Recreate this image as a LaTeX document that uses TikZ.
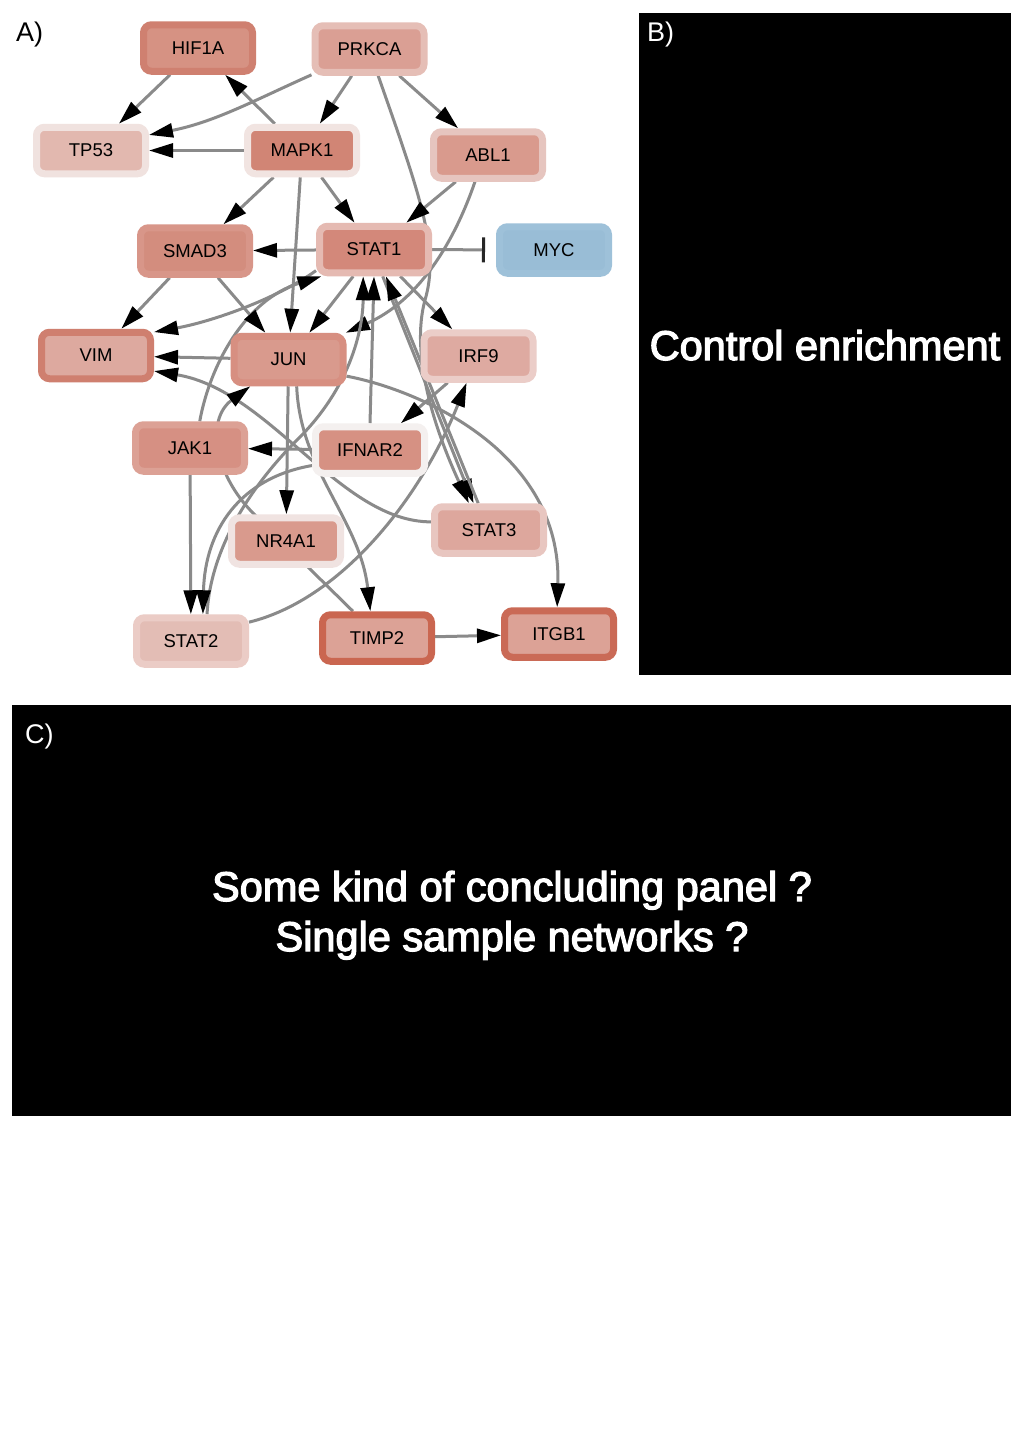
\documentclass[tikz,border=0pt]{standalone}
\usepackage{fontspec}
\setmainfont{Liberation Sans}
\newfontfamily\bigfont[FakeBold=3]{Liberation Sans}
\usetikzlibrary{arrows.meta}
\pgfdeclarelayer{bglayer}
\pgfdeclarelayer{edgelayer}
\pgfsetlayers{bglayer,edgelayer,main}
\definecolor{edgegray}{HTML}{8A8A8A}
\definecolor{hifO}{HTML}{CF8070}\definecolor{hifI}{HTML}{D69283}
\definecolor{prkO}{HTML}{E5BEB6}\definecolor{prkI}{HTML}{DA9F94}
\definecolor{tpO}{HTML}{F0E2DF}\definecolor{tpI}{HTML}{E2B8AF}
\definecolor{mapkO}{HTML}{F1E4E1}\definecolor{mapkI}{HTML}{D18575}
\definecolor{ablO}{HTML}{E6C5BF}\definecolor{ablI}{HTML}{D99A8D}
\definecolor{smadO}{HTML}{D89689}\definecolor{smadI}{HTML}{D38D7E}
\definecolor{statoneO}{HTML}{E5BAB2}\definecolor{statoneI}{HTML}{D3887A}
\definecolor{mycO}{HTML}{9EC1D9}\definecolor{mycI}{HTML}{99BDD6}
\definecolor{vimO}{HTML}{CF7F6F}\definecolor{vimI}{HTML}{DDA99F}
\definecolor{junO}{HTML}{D78F81}\definecolor{junI}{HTML}{D99A8D}
\definecolor{irfO}{HTML}{EBCDC8}\definecolor{irfI}{HTML}{DEAAA1}
\definecolor{jakO}{HTML}{DCA195}\definecolor{jakI}{HTML}{D69083}
\definecolor{ifnO}{HTML}{F4F0EF}\definecolor{ifnI}{HTML}{D69183}
\definecolor{nrO}{HTML}{F0E3E1}\definecolor{nrI}{HTML}{D99A8D}
\definecolor{statthreeO}{HTML}{E8C6C0}\definecolor{statthreeI}{HTML}{DDA79D}
\definecolor{stattwoO}{HTML}{EBCCC6}\definecolor{stattwoI}{HTML}{E3BDB5}
\definecolor{timpO}{HTML}{CA6650}\definecolor{timpI}{HTML}{DCA296}
\definecolor{itgbO}{HTML}{CA6A56}\definecolor{itgbI}{HTML}{DCA296}
\begin{document}
\begin{tikzpicture}[x=1pt,y=-1pt,
  gene/.style={rectangle, rounded corners=8pt, line width=7pt, minimum width=109pt,
    minimum height=46.5pt, inner sep=0pt, font=\fontsize{18.5}{20}\selectfont, text=black},
  lnk/.style={draw=edgegray, line width=3pt, -{Triangle[length=24pt,width=14pt,color=black]}},
  inhib/.style={draw=edgegray, line width=3pt, -{Bar[width=25pt,line width=3pt,color=black!85]}, shorten >=11pt},
  panellabel/.style={font=\fontsize{27}{30}\selectfont, anchor=base west, inner sep=0pt},
  bigtext/.style={font=\bigfont\fontsize{41.5}{50}\selectfont, text=white, anchor=base, inner sep=0pt}
]
\useasboundingbox (0,0) rectangle (1024,1440);
\begin{pgfonlayer}{bglayer}
\fill[white] (0,0) rectangle (1024,1440);
\end{pgfonlayer}

% nodes
\node[gene, draw=hifO, fill=hifI] (hif) at (198,48) {HIF1A};
\node[gene, draw=prkO, fill=prkI] (prk) at (369.5,49) {PRKCA};
\node[gene, draw=tpO, fill=tpI] (tp) at (91,150.5) {TP53};
\node[gene, draw=mapkO, fill=mapkI] (mapk) at (302,150.5) {MAPK1};
\node[gene, draw=ablO, fill=ablI] (abl) at (488,155) {ABL1};
\node[gene, draw=smadO, fill=smadI] (smad) at (195,251) {SMAD3};
\node[gene, draw=statoneO, fill=statoneI] (stat1) at (374,249.5) {STAT1};
\node[gene, draw=mycO, fill=mycI] (myc) at (554,250) {MYC};
\node[gene, draw=vimO, fill=vimI] (vim) at (96,355.5) {VIM};
\node[gene, draw=junO, fill=junI] (jun) at (288.5,359.5) {JUN};
\node[gene, draw=irfO, fill=irfI] (irf) at (478.5,356) {IRF9};
\node[gene, draw=jakO, fill=jakI] (jak) at (190,448) {JAK1};
\node[gene, draw=ifnO, fill=ifnI] (ifn) at (370,450) {IFNAR2};
\node[gene, draw=nrO, fill=nrI] (nr) at (286,541) {NR4A1};
\node[gene, draw=statthreeO, fill=statthreeI] (stat3) at (489,530) {STAT3};
\node[gene, draw=stattwoO, fill=stattwoI] (stat2) at (191,641) {STAT2};
\node[gene, draw=timpO, fill=timpI] (timp) at (377,638) {TIMP2};
\node[gene, draw=itgbO, fill=itgbI] (itgb) at (559,634) {ITGB1};

% edges
\begin{pgfonlayer}{edgelayer}
\draw[lnk] (hif) -- (tp);
\draw[lnk] (prk.204) .. controls (255,100) and (215,122) .. (tp.15);
\draw[lnk] (mapk) -- (tp);
\draw[lnk] (mapk) -- (hif);
\draw[lnk] (prk) -- (mapk);
\draw[lnk] (prk) -- (abl);
\draw[lnk] (prk.-72) .. controls (420,195) and (440,250) .. (425,300) .. controls (410,355) and (435,430) .. (stat3.127);
\draw[lnk] (mapk) -- (smad);
\draw[lnk] (mapk) -- (stat1);
\draw[lnk] (mapk) -- (jun);
\draw[lnk] (abl) -- (stat1);
\draw[lnk] (abl.244) .. controls (455,240) and (420,300) .. (jun.25);
\draw[lnk] (stat1) -- (smad);
\draw[inhib] (stat1) -- (myc);
\draw[lnk] (stat1.200) .. controls (275,300) and (210,322) .. (vim.22);
\draw[lnk] (stat1) -- (jun);
\draw[lnk] (stat1) -- (irf);
\draw[lnk] (stat1.-72) -- (stat3.120);
\draw[lnk] (stat3.112) -- (stat1.-66);
\draw[lnk] (jak.70) .. controls (210,365) and (245,300) .. (stat1.207);
\draw[lnk] (ifn.north) -- (stat1.south);
\draw[lnk] (stat2.59) .. controls (210,550) and (250,487) .. (297,440) .. controls (350,388) and (363,330) .. (stat1.-112);
\draw[lnk] (smad) -- (vim);
\draw[lnk] (smad) -- (jun);
\draw[lnk] (jun) -- (vim);
\draw[lnk] (stat3.172) .. controls (340,522) and (270,390) .. (vim.-15);
\draw[lnk] (jun) -- (nr);
\draw[lnk] (jun.-73) .. controls (300,470) and (360,520) .. (timp.104);
\draw[lnk] (jun.-16) .. controls (420,390) and (562,452) .. (itgb.94);
\draw[lnk] (timp.132) -- (253,513) .. controls (215,475) and (205,420) .. (jun.215);
\draw[lnk] (irf) -- (ifn);
\draw[lnk] (stat2.18) .. controls (340,600) and (420,500) .. (irf.-114);
\draw[lnk] (ifn) -- (jak);
\draw[lnk] (ifn.195) .. controls (240,478) and (205,530) .. (stat2.66);
\draw[lnk] (jak) -- (stat2);
\draw[lnk] (timp) -- (itgb);
\end{pgfonlayer}

% panel labels and panels
\node[panellabel] (labA) at (16,41) {A)};
\fill[black] (639,13) rectangle (1011,675);
\node[panellabel, text=white] (labB) at (647,41) {B)};
\node[bigtext] (ctrl) at (825,360) {Control enrichment};
\fill[black] (12,705) rectangle (1011,1116);
\node[panellabel, text=white] (labC) at (25,743) {C)};
\node[bigtext] (concl1) at (512,901) {Some kind of concluding panel ?};
\node[bigtext] (concl2) at (512,951) {Single sample networks ?};
\end{tikzpicture}
\end{document}
